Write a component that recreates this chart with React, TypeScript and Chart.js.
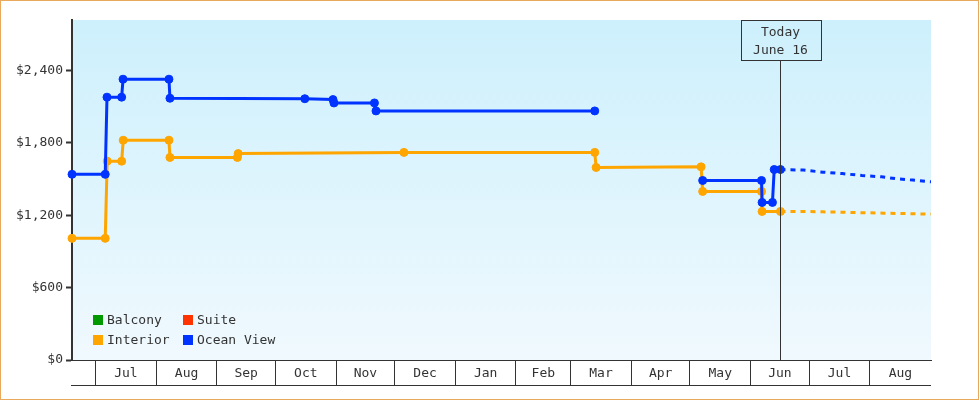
import React, { useEffect, useRef } from 'react';
import { Chart, registerables } from 'chart.js';

Chart.register(...registerables);

const FONT = '"DejaVu Sans Mono", monospace';

// x values are days counted from July 1 of the first year
const monthLabels = ['Jul', 'Aug', 'Sep', 'Oct', 'Nov', 'Dec', 'Jan', 'Feb', 'Mar', 'Apr', 'May', 'Jun', 'Jul', 'Aug'];
const monthStarts = [0, 31, 62, 92, 123, 153, 184, 215, 243, 274, 304, 335, 365, 396];
const xMin = -12.1;
const xMax = 427.3;
const todayDay = 350.3;
const todayLines = ['Today', 'June 16'];
const yTicks = [0, 600, 1200, 1800, 2400];
const yMax = 2820;

const seriesNames = ['Balcony', 'Suite', 'Interior', 'Ocean View'];
const seriesColors = ['#009900', '#ff3300', '#ffa500', '#0033ff'];

const interiorDays = [-12.1, 4.9, 5.9, 13.3, 14.1, 37.5, 38.0, 72.5, 72.9, 157.7, 255.3, 256.0, 309.7, 310.5, 340.6, 340.9, 350.3];
const interiorPrices = [1009, 1009, 1649, 1649, 1823, 1823, 1680, 1680, 1712, 1722, 1722, 1597, 1602, 1398, 1398, 1232, 1232];

const oceanDays = [-12.1, 4.9, 5.8, 13.3, 14.0, 37.5, 38.0, 107.0, 121.4, 121.9, 142.6, 143.4, 255.3, 280, 310.5, 340.6, 340.9, 346.2, 347.1, 350.3];
const oceanPrices = [1540, 1540, 2180, 2180, 2329, 2329, 2171, 2167, 2160, 2132, 2132, 2066, 2066, null, 1489, 1489, 1307, 1307, 1580, 1580];

const interiorForecastDays = [350.3, 362, 372, 389, 403, 427.3];
const interiorForecastPrices = [1232, 1232, 1229, 1223, 1218, 1210];

const oceanForecastDays = [350.3, 362, 372, 382, 392, 402, 410, 418, 427.3];
const oceanForecastPrices = [1580, 1575, 1558, 1546, 1530, 1519, 1503, 1492, 1478];

const toPoints = (xs: number[], ys: (number | null)[]) => xs.map((x, i) => ({ x, y: ys[i] }));

const decorPlugin = {
  id: 'decor',
  beforeDraw(chart: any) {
    const { ctx, chartArea: a } = chart;
    ctx.save();
    ctx.fillStyle = '#ffffff';
    ctx.fillRect(0, 0, chart.width, chart.height);
    ctx.strokeStyle = '#e9a95d';
    ctx.lineWidth = 1;
    ctx.strokeRect(0.5, 0.5, 978, 399);
    const g = ctx.createLinearGradient(0, a.top, 0, a.bottom);
    g.addColorStop(0, '#cdf0fc');
    g.addColorStop(1, '#f0f9fe');
    ctx.fillStyle = g;
    ctx.fillRect(a.left, a.top, a.right - a.left, a.bottom - a.top);
    ctx.restore();
  },
  afterDraw(chart: any) {
    const { ctx, chartArea: a } = chart;
    const xs = chart.scales.x;
    ctx.save();
    // month band bottom line
    ctx.strokeStyle = '#333333';
    ctx.lineWidth = 1;
    ctx.beginPath();
    ctx.moveTo(a.left - 1, a.bottom + 25.5);
    ctx.lineTo(a.right, a.bottom + 25.5);
    ctx.stroke();
    // month labels
    ctx.fillStyle = '#333333';
    ctx.font = '13px ' + FONT;
    ctx.textAlign = 'center';
    ctx.textBaseline = 'middle';
    monthLabels.forEach((m, i) => {
      const s = monthStarts[i];
      const e = i + 1 < monthStarts.length ? monthStarts[i + 1] : xMax;
      const cx = (xs.getPixelForValue(s) + xs.getPixelForValue(e)) / 2;
      ctx.fillText(m, cx, a.bottom + 13.5);
    });
    // today marker
    const tx = Math.round(xs.getPixelForValue(todayDay)) + 0.5;
    const bw = 80, bh = 40;
    ctx.beginPath();
    ctx.moveTo(tx, a.top + bh);
    ctx.lineTo(tx, a.bottom);
    ctx.stroke();
    ctx.strokeRect(Math.round(tx - bw / 2) + 0.5, a.top + 0.5, bw, bh);
    ctx.fillText(todayLines[0], tx, a.top + 13);
    ctx.fillText(todayLines[1], tx, a.top + 31);
    // legend
    const lx = a.left + 21;
    const ly = a.bottom - 45;
    ctx.textAlign = 'left';
    seriesNames.forEach((n, i) => {
      const col = i % 2;
      const row = Math.floor(i / 2);
      const x = lx + col * 90;
      const y = ly + row * 20;
      ctx.fillStyle = seriesColors[i];
      ctx.fillRect(x, y, 10, 10);
      ctx.fillStyle = '#333333';
      ctx.fillText(n, x + 14, y + 5.5);
    });
    ctx.restore();
  },
};

export default function App() {
  const ref = useRef<HTMLCanvasElement | null>(null);
  useEffect(() => {
    document.body.style.margin = '0';
    const canvas = ref.current;
    if (!canvas) return;
    const solid = (i: number, xs: number[], ys: (number | null)[], order: number) => ({
      label: seriesNames[i],
      data: toPoints(xs, ys),
      borderColor: seriesColors[i],
      backgroundColor: seriesColors[i],
      borderWidth: 3,
      pointRadius: 4,
      pointBorderWidth: 1,
      pointBackgroundColor: seriesColors[i],
      pointBorderColor: seriesColors[i],
      tension: 0,
      spanGaps: false,
      clip: false as any,
      order,
    });
    const dashed = (i: number, xs: number[], ys: number[], order: number) => ({
      label: seriesNames[i] + ' forecast',
      data: toPoints(xs, ys),
      borderColor: seriesColors[i],
      backgroundColor: seriesColors[i],
      borderWidth: 3,
      borderDash: [5, 5],
      pointRadius: 0,
      tension: 0,
      order,
    });
    const chart = new Chart(canvas, {
      type: 'line',
      data: {
        datasets: [
          { label: seriesNames[0], data: [], borderColor: seriesColors[0], backgroundColor: seriesColors[0] },
          { label: seriesNames[1], data: [], borderColor: seriesColors[1], backgroundColor: seriesColors[1] },
          solid(2, interiorDays, interiorPrices, 3),
          solid(3, oceanDays, oceanPrices, 1),
          dashed(2, interiorForecastDays, interiorForecastPrices, 4),
          dashed(3, oceanForecastDays, oceanForecastPrices, 2),
        ] as any,
      },
      options: {
        animation: false,
        responsive: false,
        devicePixelRatio: 1,
        layout: { padding: { left: 0, top: 20, right: 49, bottom: 15 } },
        plugins: { legend: { display: false }, tooltip: { enabled: false } },
        scales: {
          x: {
            type: 'linear',
            min: xMin,
            max: xMax,
            afterBuildTicks: (s: any) => {
              s.ticks = monthStarts.map((v) => ({ value: v }));
            },
            afterFit: (s: any) => {
              s.height = 25;
            },
            ticks: { display: false },
            grid: { drawOnChartArea: false, drawTicks: true, tickLength: 25, color: '#333333', lineWidth: 1 },
            border: { display: true, color: '#333333', width: 1 },
          },
          y: {
            type: 'linear',
            min: 0,
            max: yMax,
            afterBuildTicks: (s: any) => {
              s.ticks = yTicks.map((v) => ({ value: v }));
            },
            afterFit: (s: any) => {
              s.width = 72;
            },
            ticks: {
              color: '#333333',
              padding: 3,
              font: { family: FONT, size: 13 },
              callback: (v: any) => '$' + Number(v).toLocaleString('en-US'),
            },
            grid: { drawOnChartArea: false, drawTicks: true, tickLength: 6, tickWidth: 2, tickColor: '#333333' },
            border: { display: true, color: '#333333', width: 2 },
          },
        },
      } as any,
      plugins: [decorPlugin],
    });
    return () => chart.destroy();
  }, []);
  return <canvas ref={ref} width={980} height={400} style={{ display: 'block', width: 980, height: 400 }} />;
}
